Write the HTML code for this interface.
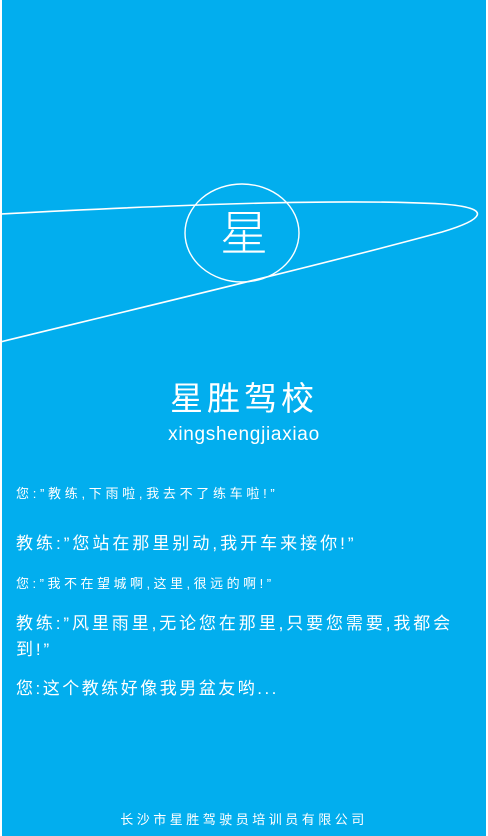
<!DOCTYPE html>
<html><head><meta charset="utf-8"><style>
html,body{margin:0;padding:0}
body{width:488px;height:836px;overflow:hidden;background:#fff;font-family:"Liberation Sans","Noto Sans CJK SC",sans-serif;color:#fff}
#page{position:absolute;left:2px;top:0;width:484px;height:836px;background:#02aeee;overflow:hidden}
.t{position:absolute;white-space:nowrap}
</style></head><body>
<div id="page">
<svg width="484" height="836" style="position:absolute;left:0;top:0">
<path d="M-2 214 C 150 206 330 198 440 204 C 494 208 480 220 440 232 C 330 262 150 305 -2 342" fill="none" stroke="#fff" stroke-width="1.6"/>
<ellipse cx="240" cy="233" rx="57" ry="49" fill="none" stroke="#fff" stroke-width="1.4"/>
<text x="242" y="250" font-size="48" fill="#fff" text-anchor="middle" font-family="Noto Sans CJK SC, sans-serif" font-weight="300">星</text>
</svg>
<div class="t" style="left:0;width:484px;text-align:center;top:372px;font-size:33px;letter-spacing:4px">星胜驾校</div>
<div class="t" style="left:0;width:484px;text-align:center;top:424px;font-size:19px;letter-spacing:0.7px">xingshengjiaxiao</div>
<div class="t" style="left:14px;top:483px;font-size:13px;letter-spacing:3.7px">您:”教练,下雨啦,我去不了练车啦!”</div>
<div class="t" style="left:14px;top:529px;font-size:17px;letter-spacing:3px">教练:”您站在那里别动,我开车来接你!”</div>
<div class="t" style="left:14px;top:573px;font-size:13px;letter-spacing:3.5px">您:”我不在望城啊,这里,很远的啊!”</div>
<div class="t" style="left:14px;top:611px;font-size:17px;line-height:26px;letter-spacing:2.9px">教练:”风里雨里,无论您在那里,只要您需要,我都会<br>到!”</div>
<div class="t" style="left:14px;top:674px;font-size:17px;letter-spacing:2.5px">您:这个教练好像我男盆友哟...</div>
<div class="t" style="left:0;width:484px;text-align:center;top:809px;font-size:13px;letter-spacing:3.5px">长沙市星胜驾驶员培训员有限公司</div>
</div>
</body></html>
